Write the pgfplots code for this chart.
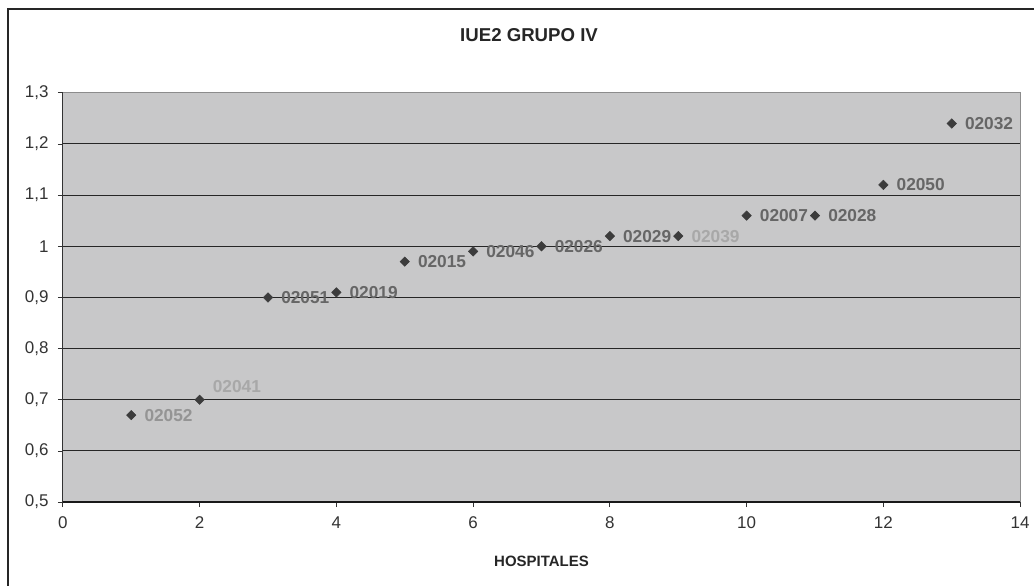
\documentclass[border=0pt]{standalone}
\usepackage{pgfplots}
\usepackage{pgfplotstable}
\usepackage{fontspec}
\setmainfont{Liberation Sans}
\pgfplotsset{compat=1.18}

\definecolor{fondo}{RGB}{200,200,201}
\definecolor{marca}{RGB}{60,60,60}

% hospital, IUE2, etiqueta, % de negro del texto, desplazamiento vertical (px)
\pgfplotstableread{
x  y     lab    k   dy
1  0.67  02052  42  0
2  0.70  02041  34  13
3  0.90  02051  60  0
4  0.91  02019  60  0
5  0.97  02015  60  0
6  0.99  02046  60  0
7  1.00  02026  60  0
8  1.02  02029  60  0
9  1.02  02039  34  0
10 1.06  02007  60  0
11 1.06  02028  60  0
12 1.12  02050  60  0
13 1.24  02032  60  0
}\datos

\begin{document}
\begin{tikzpicture}
  % 1 px = 0.75pt, origen en la esquina inferior izquierda del area de trazado
  \begin{scope}[x=0.75pt,y=0.75pt]
    \useasboundingbox (-63,-84) rectangle (971,503);
    \draw[line width=1.5pt, black!85] (-55,-100) -- (-55,494) -- (1000,494);
  \end{scope}
  \begin{axis}[
    scale only axis,
    width=719.25pt, height=307.5pt,
    xmin=0, xmax=14, ymin=0.5, ymax=1.3,
    xtick={0,2,...,14},
    ytick={0.5,0.6,0.7,0.8,0.9,1.0,1.1,1.2,1.3},
    extra y ticks={0.6,0.7,0.8,0.9,1.0,1.1,1.2},
    extra y tick labels={},
    extra y tick style={grid=major, major tick length=0pt},
    major grid style={line width=0.75pt, black!85},
    /pgf/number format/use comma,
    /pgf/number format/assume math mode=true,
    tick label style={font=\fontsize{12.75}{15}\selectfont, black!80},
    x tick label style={yshift=-3.5pt},
    y tick label style={xshift=-3.5pt},
    xtick pos=bottom, ytick pos=left,
    tick align=outside,
    major tick length=3.75pt,
    tick style={black!80, line width=0.6pt},
    axis line style={draw=none},
    axis background/.style={fill=fondo, draw=black!45, line width=0.8pt},
    title={IUE2 GRUPO IV},
    title style={at={(0.487,1)}, anchor=center, yshift=37.5pt,
      font=\bfseries\fontsize{14}{16}\selectfont, black!85},
    xlabel={HOSPITALES},
    xlabel style={at={(0.5,0)}, anchor=center, yshift=-44.25pt,
      font=\bfseries\fontsize{11.25}{13}\selectfont, black!85},
    clip=false,
  ]
  \draw[black!90, line width=1.1pt] (rel axis cs:0,0) -- (rel axis cs:1,0);
  \draw[black!80, line width=0.7pt] (rel axis cs:0,0) -- (rel axis cs:0,1);
  \addplot[
    only marks,
    mark=square*,
    mark size=2.5pt,
    mark options={rotate=45, fill=marca, draw=marca},
    point meta=explicit symbolic,
    visualization depends on={\thisrow{k} \as \kk},
    visualization depends on={\thisrow{dy} \as \dy},
    nodes near coords,
    nodes near coords style={anchor=west, inner sep=0pt,
      xshift=9.75pt, yshift=\dy*0.75pt, text=black!\kk,
      font=\bfseries\fontsize{13}{15}\selectfont},
  ] table[x=x, y=y, meta=lab] {\datos};
  \end{axis}
\end{tikzpicture}
\end{document}
